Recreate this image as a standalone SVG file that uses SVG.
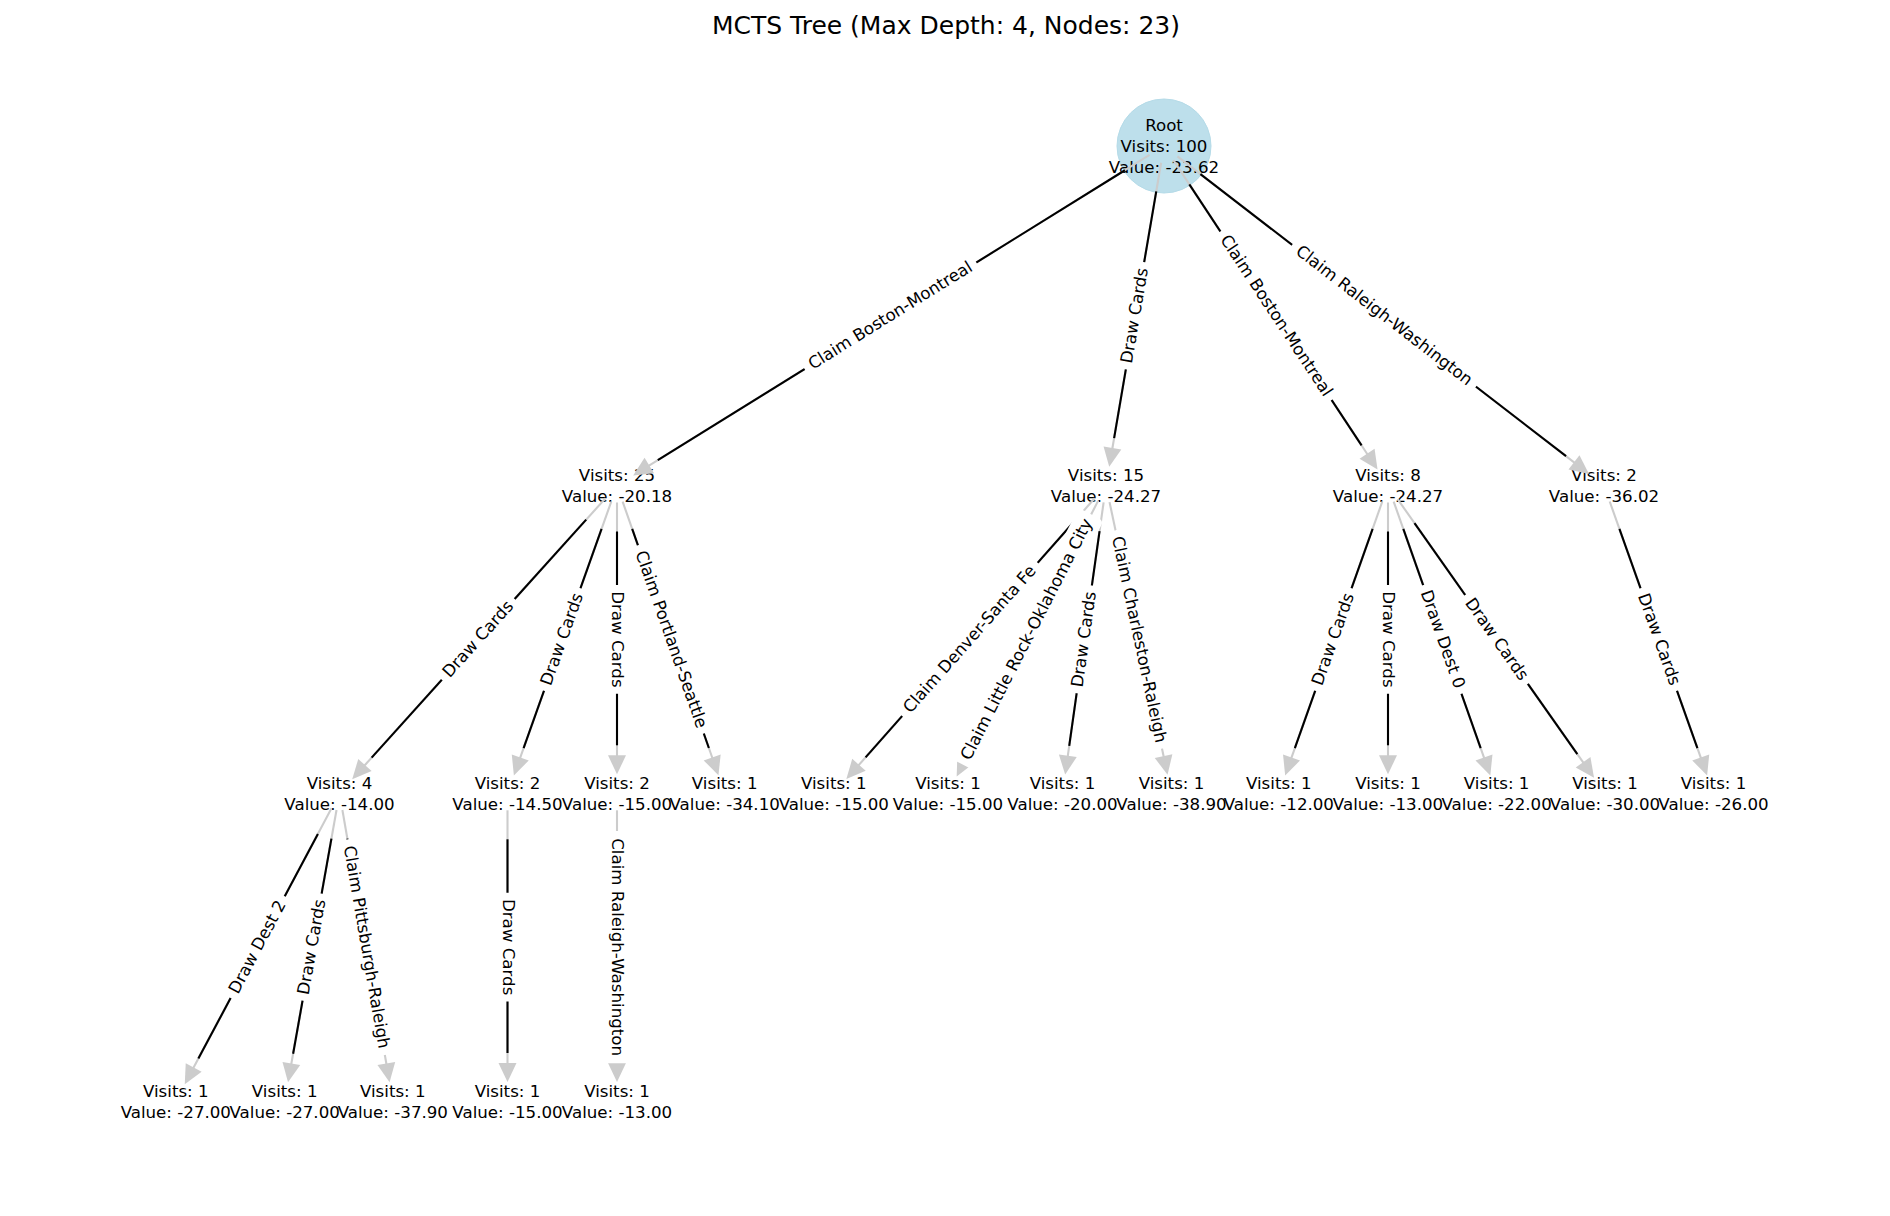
<svg xmlns="http://www.w3.org/2000/svg" width="1890" height="1216" viewBox="0 0 1890 1216">
<style>
.t{font-family:"DejaVu Sans","Liberation Sans",sans-serif;font-size:16.67px;text-anchor:middle;fill:#000}
.title{font-family:"DejaVu Sans","Liberation Sans",sans-serif;font-size:25px;text-anchor:middle;fill:#000}
.g{stroke:#cccccc;stroke-width:2.1;fill:none}
.k{stroke:#000;stroke-width:2.1;fill:none}
.ah{fill:#cccccc;stroke:none}
.lb{fill:#fff;stroke:none}
</style>
<rect width="1890" height="1216" fill="#fff"/>
<text class="title" x="946" y="34">MCTS Tree (Max Depth: 4, Nodes: 23)</text>

<g id="nodes">
<g id="node-root"><circle cx="1164" cy="146" r="47" fill="#bddfeb" stroke="#b5dbe8" stroke-width="1"/><text class="t" x="1164" y="131">Root</text><text class="t" x="1164" y="152">Visits: 100</text><text class="t" x="1164" y="173">Value: -23.62</text></g>
<g id="node-a"><text class="t" x="617" y="481">Visits: 25</text><text class="t" x="617" y="502">Value: -20.18</text></g>
<g id="node-b"><text class="t" x="1106" y="481">Visits: 15</text><text class="t" x="1106" y="502">Value: -24.27</text></g>
<g id="node-c"><text class="t" x="1388" y="481">Visits: 8</text><text class="t" x="1388" y="502">Value: -24.27</text></g>
<g id="node-d"><text class="t" x="1604" y="481">Visits: 2</text><text class="t" x="1604" y="502">Value: -36.02</text></g>
<g id="node-a1"><text class="t" x="339.5" y="789">Visits: 4</text><text class="t" x="339.5" y="809.5">Value: -14.00</text></g>
<g id="node-a2"><text class="t" x="507.5" y="789">Visits: 2</text><text class="t" x="507.5" y="809.5">Value: -14.50</text></g>
<g id="node-a3"><text class="t" x="617" y="789">Visits: 2</text><text class="t" x="617" y="809.5">Value: -15.00</text></g>
<g id="node-a4"><text class="t" x="724.7" y="789">Visits: 1</text><text class="t" x="724.7" y="809.5">Value: -34.10</text></g>
<g id="node-b1"><text class="t" x="833.8" y="789">Visits: 1</text><text class="t" x="833.8" y="809.5">Value: -15.00</text></g>
<g id="node-b2"><text class="t" x="948" y="789">Visits: 1</text><text class="t" x="948" y="809.5">Value: -15.00</text></g>
<g id="node-b3"><text class="t" x="1062.5" y="789">Visits: 1</text><text class="t" x="1062.5" y="809.5">Value: -20.00</text></g>
<g id="node-b4"><text class="t" x="1171.5" y="789">Visits: 1</text><text class="t" x="1171.5" y="809.5">Value: -38.90</text></g>
<g id="node-c1"><text class="t" x="1278.8" y="789">Visits: 1</text><text class="t" x="1278.8" y="809.5">Value: -12.00</text></g>
<g id="node-c2"><text class="t" x="1388" y="789">Visits: 1</text><text class="t" x="1388" y="809.5">Value: -13.00</text></g>
<g id="node-c3"><text class="t" x="1496.6" y="789">Visits: 1</text><text class="t" x="1496.6" y="809.5">Value: -22.00</text></g>
<g id="node-c4"><text class="t" x="1605" y="789">Visits: 1</text><text class="t" x="1605" y="809.5">Value: -30.00</text></g>
<g id="node-d1"><text class="t" x="1713.5" y="789">Visits: 1</text><text class="t" x="1713.5" y="809.5">Value: -26.00</text></g>
<g id="node-a1a"><text class="t" x="175.8" y="1096.7">Visits: 1</text><text class="t" x="175.8" y="1117.7">Value: -27.00</text></g>
<g id="node-a1b"><text class="t" x="284.7" y="1096.7">Visits: 1</text><text class="t" x="284.7" y="1117.7">Value: -27.00</text></g>
<g id="node-a1c"><text class="t" x="392.8" y="1096.7">Visits: 1</text><text class="t" x="392.8" y="1117.7">Value: -37.90</text></g>
<g id="node-a2a"><text class="t" x="507.5" y="1096.7">Visits: 1</text><text class="t" x="507.5" y="1117.7">Value: -15.00</text></g>
<g id="node-a3a"><text class="t" x="617" y="1096.7">Visits: 1</text><text class="t" x="617" y="1117.7">Value: -13.00</text></g>
</g>

<g id="connectors">
<g id="edge-lines">
<g transform="translate(1164,146) rotate(148.17)"><line class="g" x1="17" y1="0" x2="609" y2="0"/><line class="k" x1="46" y1="0" x2="595.8" y2="0"/><polygon class="ah" points="624.8,0 605.8,-9 605.8,9"/></g>
<g transform="translate(1164,146) rotate(99.69)"><line class="g" x1="17" y1="0" x2="309.4" y2="0"/><line class="k" x1="46" y1="0" x2="296.4" y2="0"/><polygon class="ah" points="325.4,0 306.4,-9 306.4,9"/></g>
<g transform="translate(1164,146) rotate(56.58)"><line class="g" x1="17" y1="0" x2="371.7" y2="0"/><line class="k" x1="46" y1="0" x2="358.7" y2="0"/><polygon class="ah" points="387.7,0 368.7,-9 368.7,9"/></g>
<g transform="translate(1164,146) rotate(37.65)"><line class="g" x1="17" y1="0" x2="520.8" y2="0"/><line class="k" x1="46" y1="0" x2="507.8" y2="0"/><polygon class="ah" points="536.8,0 517.8,-9 517.8,9"/></g>
<g transform="translate(617,485.5) rotate(132.04)"><line class="g" x1="17" y1="0" x2="379.4" y2="0"/><line class="k" x1="46" y1="0" x2="366.4" y2="0"/><polygon class="ah" points="395.4,0 376.4,-9 376.4,9"/></g>
<g transform="translate(617,485.5) rotate(109.58)"><line class="g" x1="17" y1="0" x2="291.7" y2="0"/><line class="k" x1="46" y1="0" x2="278.7" y2="0"/><polygon class="ah" points="307.7,0 288.7,-9 288.7,9"/></g>
<g transform="translate(617,485.5) rotate(90)"><line class="g" x1="17" y1="0" x2="272.8" y2="0"/><line class="k" x1="46" y1="0" x2="259.8" y2="0"/><polygon class="ah" points="288.8,0 269.8,-9 269.8,9"/></g>
<g transform="translate(617,485.5) rotate(70.71)"><line class="g" x1="17" y1="0" x2="291.1" y2="0"/><line class="k" x1="46" y1="0" x2="278.1" y2="0"/><polygon class="ah" points="307.1,0 288.1,-9 288.1,9"/></g>
<g transform="translate(1106,485.5) rotate(131.49)"><line class="g" x1="17" y1="0" x2="375.9" y2="0"/><line class="k" x1="46" y1="0" x2="362.9" y2="0"/><polygon class="ah" points="391.9,0 372.9,-9 372.9,9"/></g>
<g transform="translate(1106,485.5) rotate(117.17)"><line class="g" x1="17" y1="0" x2="311" y2="0"/><line class="k" x1="46" y1="0" x2="298" y2="0"/><polygon class="ah" points="327,0 308,-9 308,9"/></g>
<g transform="translate(1106,485.5) rotate(98.04)"><line class="g" x1="17" y1="0" x2="275.9" y2="0"/><line class="k" x1="46" y1="0" x2="262.9" y2="0"/><polygon class="ah" points="291.9,0 272.9,-9 272.9,9"/></g>
<g transform="translate(1106,485.5) rotate(77.99)"><line class="g" x1="17" y1="0" x2="279.7" y2="0"/><line class="k" x1="46" y1="0" x2="266.7" y2="0"/><polygon class="ah" points="295.7,0 276.7,-9 276.7,9"/></g>
<g transform="translate(1388,485.5) rotate(109.53)"><line class="g" x1="17" y1="0" x2="291.6" y2="0"/><line class="k" x1="46" y1="0" x2="278.6" y2="0"/><polygon class="ah" points="307.6,0 288.6,-9 288.6,9"/></g>
<g transform="translate(1388,485.5) rotate(90)"><line class="g" x1="17" y1="0" x2="272.8" y2="0"/><line class="k" x1="46" y1="0" x2="259.8" y2="0"/><polygon class="ah" points="288.8,0 269.8,-9 269.8,9"/></g>
<g transform="translate(1388,485.5) rotate(70.56)"><line class="g" x1="17" y1="0" x2="291.4" y2="0"/><line class="k" x1="46" y1="0" x2="278.4" y2="0"/><polygon class="ah" points="307.4,0 288.4,-9 288.4,9"/></g>
<g transform="translate(1388,485.5) rotate(54.82)"><line class="g" x1="17" y1="0" x2="341.6" y2="0"/><line class="k" x1="46" y1="0" x2="328.6" y2="0"/><polygon class="ah" points="357.6,0 338.6,-9 338.6,9"/></g>
<g transform="translate(1604,485.5) rotate(70.42)"><line class="g" x1="17" y1="0" x2="291.7" y2="0"/><line class="k" x1="46" y1="0" x2="278.7" y2="0"/><polygon class="ah" points="307.7,0 288.7,-9 288.7,9"/></g>
<g transform="translate(339.5,793.3) rotate(118.01)"><line class="g" x1="17" y1="0" x2="313.5" y2="0"/><line class="k" x1="46" y1="0" x2="300.5" y2="0"/><polygon class="ah" points="329.5,0 310.5,-9 310.5,9"/></g>
<g transform="translate(339.5,793.3) rotate(100.10)"><line class="g" x1="17" y1="0" x2="277.5" y2="0"/><line class="k" x1="46" y1="0" x2="264.5" y2="0"/><polygon class="ah" points="293.5,0 274.5,-9 274.5,9"/></g>
<g transform="translate(339.5,793.3) rotate(80.17)"><line class="g" x1="17" y1="0" x2="277.3" y2="0"/><line class="k" x1="46" y1="0" x2="264.3" y2="0"/><polygon class="ah" points="293.3,0 274.3,-9 274.3,9"/></g>
<g transform="translate(507.5,793.3) rotate(90)"><line class="g" x1="17" y1="0" x2="272.7" y2="0"/><line class="k" x1="46" y1="0" x2="259.7" y2="0"/><polygon class="ah" points="288.7,0 269.7,-9 269.7,9"/></g>
<g transform="translate(617,793.3) rotate(90)"><line class="g" x1="17" y1="0" x2="272.7" y2="0"/><line class="k" x1="46" y1="0" x2="259.7" y2="0"/><polygon class="ah" points="288.7,0 269.7,-9 269.7,9"/></g>
</g>
<g id="edge-labels">
<g transform="translate(1164,146) rotate(148.17) translate(321.9,0) rotate(180)"><rect class="lb" x="-101" y="-14" width="202" height="28" rx="5"/><text class="t" y="5">Claim Boston-Montreal</text></g>
<g transform="translate(1164,146) rotate(99.69) translate(172.2,0) rotate(180)"><rect class="lb" x="-54.4" y="-14" width="108.8" height="28" rx="5"/><text class="t" y="5">Draw Cards</text></g>
<g transform="translate(1164,146) rotate(56.58) translate(203.35,0)"><rect class="lb" x="-101" y="-14" width="202" height="28" rx="5"/><text class="t" y="5">Claim Boston-Montreal</text></g>
<g transform="translate(1164,146) rotate(37.65) translate(277.9,0)"><rect class="lb" x="-116.1" y="-14" width="232.2" height="28" rx="5"/><text class="t" y="5">Claim Raleigh-Washington</text></g>
<g transform="translate(617,485.5) rotate(132.04) translate(207.2,0) rotate(180)"><rect class="lb" x="-54.4" y="-14" width="108.8" height="28" rx="5"/><text class="t" y="5">Draw Cards</text></g>
<g transform="translate(617,485.5) rotate(109.58) translate(163.35,0) rotate(180)"><rect class="lb" x="-54.4" y="-14" width="108.8" height="28" rx="5"/><text class="t" y="5">Draw Cards</text></g>
<g transform="translate(617,485.5) rotate(90) translate(153.9,0)"><rect class="lb" x="-54.4" y="-14" width="108.8" height="28" rx="5"/><text class="t" y="5">Draw Cards</text></g>
<g transform="translate(617,485.5) rotate(70.71) translate(163.05,0)"><rect class="lb" x="-99.65" y="-14" width="199.3" height="28" rx="5"/><text class="t" y="5">Claim Portland-Seattle</text></g>
<g transform="translate(1106,485.5) rotate(131.49) translate(205.45,0) rotate(180)"><rect class="lb" x="-102.3" y="-14" width="204.6" height="28" rx="5"/><text class="t" y="5">Claim Denver-Santa Fe</text></g>
<g transform="translate(1106,485.5) rotate(117.17) translate(173,0) rotate(180)"><rect class="lb" x="-140.65" y="-14" width="281.3" height="28" rx="5"/><text class="t" y="5">Claim Little Rock-Oklahoma City</text></g>
<g transform="translate(1106,485.5) rotate(98.04) translate(155.45,0) rotate(180)"><rect class="lb" x="-54.4" y="-14" width="108.8" height="28" rx="5"/><text class="t" y="5">Draw Cards</text></g>
<g transform="translate(1106,485.5) rotate(77.99) translate(157.35,0)"><rect class="lb" x="-111.65" y="-14" width="223.3" height="28" rx="5"/><text class="t" y="5">Claim Charleston-Raleigh</text></g>
<g transform="translate(1388,485.5) rotate(109.53) translate(163.3,0) rotate(180)"><rect class="lb" x="-54.4" y="-14" width="108.8" height="28" rx="5"/><text class="t" y="5">Draw Cards</text></g>
<g transform="translate(1388,485.5) rotate(90) translate(153.9,0)"><rect class="lb" x="-54.4" y="-14" width="108.8" height="28" rx="5"/><text class="t" y="5">Draw Cards</text></g>
<g transform="translate(1388,485.5) rotate(70.56) translate(163.2,0)"><rect class="lb" x="-57.55" y="-14" width="115.1" height="28" rx="5"/><text class="t" y="5">Draw Dest 0</text></g>
<g transform="translate(1388,485.5) rotate(54.82) translate(188.3,0)"><rect class="lb" x="-54.4" y="-14" width="108.8" height="28" rx="5"/><text class="t" y="5">Draw Cards</text></g>
<g transform="translate(1604,485.5) rotate(70.42) translate(163.35,0)"><rect class="lb" x="-54.4" y="-14" width="108.8" height="28" rx="5"/><text class="t" y="5">Draw Cards</text></g>
<g transform="translate(339.5,793.3) rotate(118.01) translate(174.25,0) rotate(180)"><rect class="lb" x="-57.55" y="-14" width="115.1" height="28" rx="5"/><text class="t" y="5">Draw Dest 2</text></g>
<g transform="translate(339.5,793.3) rotate(100.10) translate(156.25,0) rotate(180)"><rect class="lb" x="-54.4" y="-14" width="108.8" height="28" rx="5"/><text class="t" y="5">Draw Cards</text></g>
<g transform="translate(339.5,793.3) rotate(80.17) translate(156.15,0)"><rect class="lb" x="-109.4" y="-14" width="218.8" height="28" rx="5"/><text class="t" y="5">Claim Pittsburgh-Raleigh</text></g>
<g transform="translate(507.5,793.3) rotate(90) translate(153.85,0)"><rect class="lb" x="-54.4" y="-14" width="108.8" height="28" rx="5"/><text class="t" y="5">Draw Cards</text></g>
<g transform="translate(617,793.3) rotate(90) translate(153.85,0)"><rect class="lb" x="-116.1" y="-14" width="232.2" height="28" rx="5"/><text class="t" y="5">Claim Raleigh-Washington</text></g>
</g>
</g>
</svg>
